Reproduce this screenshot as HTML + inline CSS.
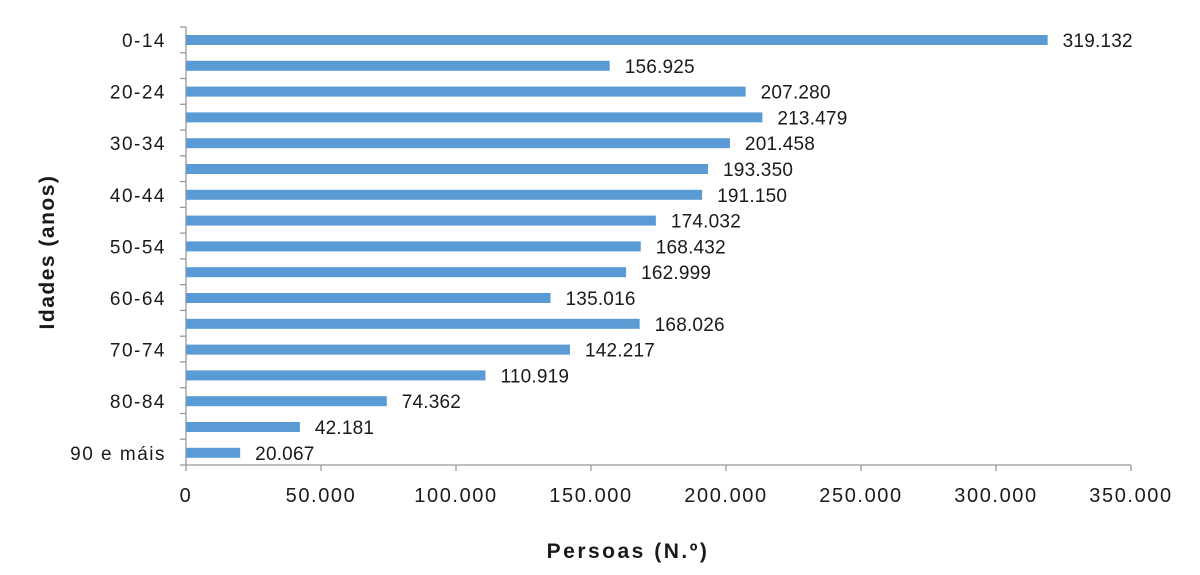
<!DOCTYPE html>
<html><head><meta charset="utf-8"><style>
html,body{margin:0;padding:0;background:#fff;}
svg{display:block;}
text{font-family:"Liberation Sans",sans-serif;fill:#1a1a1a;}
</style></head><body>
<svg width="1200" height="575" xmlns="http://www.w3.org/2000/svg">
<line x1="186" y1="27" x2="186" y2="465" stroke="#999" stroke-width="1.3"/>
<line x1="186" y1="465" x2="1131" y2="465" stroke="#999" stroke-width="1.3"/>
<g id="g"></g>
<text x="47" y="252" transform="rotate(-90 47 252)" text-anchor="middle" font-size="21" font-weight="bold" letter-spacing="1.5" dy="7">Idades (anos)</text>
<text x="628" y="558" text-anchor="middle" font-size="21" font-weight="bold" letter-spacing="2.5">Persoas (N.º)</text>
</svg>
<script>
var vals=[319132,156925,207280,213479,201458,193350,191150,174032,168432,162999,135016,168026,142217,110919,74362,42181,20067];
var labs=["0-14","","20-24","","30-34","","40-44","","50-54","","60-64","","70-74","","80-84","","90 e máis"];
var ns="http://www.w3.org/2000/svg",g=document.getElementById("g");
function el(t,a,txt){var e=document.createElementNS(ns,t);for(var k in a)e.setAttribute(k,a[k]);if(txt!=null)e.textContent=txt;g.appendChild(e);}
var s=945/350000;
for(var i=0;i<17;i++){
 var c=40+i*25.8,w=vals[i]*s;
 el("rect",{x:186,y:c-5,width:w,height:10,fill:"#5B9BD5"});
 el("text",{x:186+w+15,y:c+7,"font-size":"19","letter-spacing":"0.2"},vals[i].toLocaleString("de-DE"));
 if(labs[i])el("text",{x:166,y:c+7,"font-size":"19","letter-spacing":"1.5","text-anchor":"end"},labs[i]);
}
for(var k=0;k<=17;k++){var y=27+k*(438/17);el("line",{x1:180,y1:y,x2:186,y2:y,stroke:"#999","stroke-width":1.3});}
for(var k=0;k<=7;k++){var x=186+k*135;el("line",{x1:x,y1:465,x2:x,y2:471,stroke:"#999","stroke-width":1.3});
 el("text",{x:x,y:502,"font-size":"20","letter-spacing":"1.6","text-anchor":"middle"},(k*50000).toLocaleString("de-DE"));}
</script>
</body></html>
